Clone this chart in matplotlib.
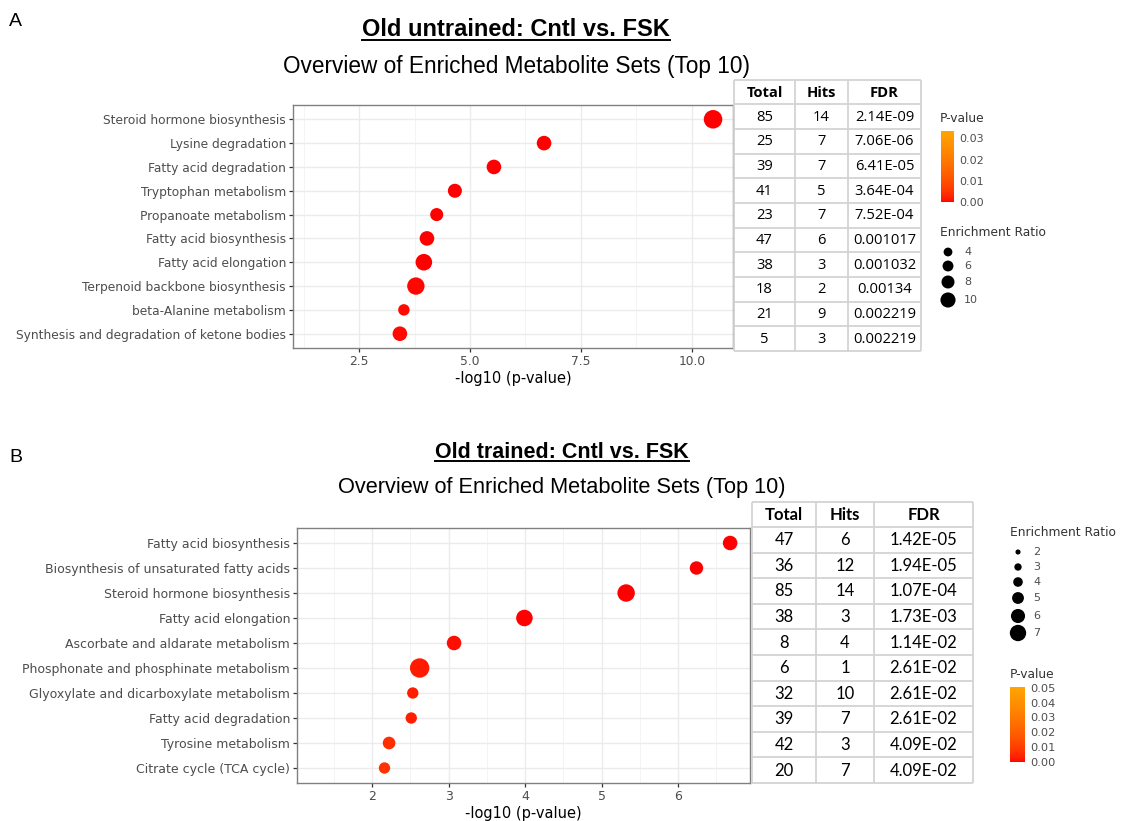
import numpy as np
import matplotlib
matplotlib.use("Agg")
import matplotlib.pyplot as plt
from matplotlib.colors import LinearSegmentedColormap, Normalize
from matplotlib.cm import ScalarMappable

# ---------------- data ----------------
sets_a = ["Steroid hormone biosynthesis", "Lysine degradation", "Fatty acid degradation",
          "Tryptophan metabolism", "Propanoate metabolism", "Fatty acid biosynthesis",
          "Fatty acid elongation", "Terpenoid backbone biosynthesis", "beta-Alanine metabolism",
          "Synthesis and degradation of ketone bodies"]
neglogp_a = [10.48, 6.67, 5.54, 4.66, 4.25, 4.03, 3.96, 3.78, 3.51, 3.42]
ratio_a = [10.5, 6.5, 6.5, 6.0, 5.2, 6.5, 8.4, 9.2, 4.0, 6.5]
total_a = ["85", "25", "39", "41", "23", "47", "38", "18", "21", "5"]
hits_a = ["14", "7", "7", "5", "7", "6", "3", "2", "9", "3"]
fdr_a = ["2.14E-09", "7.06E-06", "6.41E-05", "3.64E-04", "7.52E-04",
         "0.001017", "0.001032", "0.00134", "0.002219", "0.002219"]
xticks_a = [2.5, 5.0, 7.5, 10.0]
pbar_ticks_a = [0.00, 0.01, 0.02, 0.03]
ratio_keys_a = [4, 6, 8, 10]

sets_b = ["Fatty acid biosynthesis", "Biosynthesis of unsaturated fatty acids",
          "Steroid hormone biosynthesis", "Fatty acid elongation",
          "Ascorbate and aldarate metabolism", "Phosphonate and phosphinate metabolism",
          "Glyoxylate and dicarboxylate metabolism", "Fatty acid degradation",
          "Tyrosine metabolism", "Citrate cycle (TCA cycle)"]
neglogp_b = [6.68, 6.24, 5.32, 3.99, 3.07, 2.62, 2.53, 2.51, 2.22, 2.16]
ratio_b = [4.1, 3.5, 5.9, 5.3, 4.1, 7.3, 2.5, 2.5, 3.1, 2.5]
total_b = ["47", "36", "85", "38", "8", "6", "32", "39", "42", "20"]
hits_b = ["6", "12", "14", "3", "4", "1", "10", "7", "3", "7"]
fdr_b = ["1.42E-05", "1.94E-05", "1.07E-04", "1.73E-03", "1.14E-02",
         "2.61E-02", "2.61E-02", "2.61E-02", "4.09E-02", "4.09E-02"]
xticks_b = [2, 3, 4, 5, 6]
pbar_ticks_b = [0.00, 0.01, 0.02, 0.03, 0.04, 0.05]
ratio_keys_b = [2, 3, 4, 5, 6, 7]

table_header = ["Total", "Hits", "FDR"]

# ---------------- figure ----------------
W, H = 1122, 821
fig = plt.figure(figsize=(W / 100, H / 100), dpi=100)
fig.patch.set_facecolor("white")

cmap = LinearSegmentedColormap.from_list("pval", ["#FF0000", "#FFA500"], gamma=0.6)

GRID = "#EBEBEB"
TXT = "#4D4D4D"


def px_axes(left, top, right, bottom, **kw):
    return fig.add_axes([left / W, 1 - bottom / H, (right - left) / W, (bottom - top) / H], **kw)


# overlay for absolutely positioned text, tables and legend keys
ov = fig.add_axes([0, 0, 1, 1], zorder=5)
ov.set_xlim(0, W)
ov.set_ylim(H, 0)
ov.axis("off")
ov.patch.set_alpha(0)


def dot_panel(box, names, xvals, ratios, pmax, xlim, xticks, minor, area_k, lab_size):
    ax = px_axes(*box)
    ax.set_zorder(2)
    y = np.arange(len(names))
    p = 10 ** (-np.asarray(xvals))
    colors = cmap(Normalize(0, pmax)(p))
    ax.scatter(xvals, y, s=area_k * np.asarray(ratios), c=colors, linewidths=0, zorder=3)
    ax.set_xlim(*xlim)
    ax.set_ylim(len(names) - 0.4, -0.6)
    ax.set_yticks(y)
    ax.set_yticklabels(names)
    ax.set_xticks(xticks)
    ax.set_xticks(minor, minor=True)
    ax.grid(True, which="major", color=GRID, lw=1.0, zorder=0)
    ax.grid(True, which="minor", axis="x", color="#F3F3F3", lw=0.6, zorder=0)
    ax.set_axisbelow(True)
    for s in ax.spines.values():
        s.set_color("#808080")
        s.set_linewidth(1.0)
    ax.tick_params(which="major", length=3, width=0.9, color="#333333",
                   labelcolor=TXT, labelsize=lab_size, pad=2)
    ax.tick_params(which="minor", length=0)
    ax.set_xlabel("-log10 (p-value)", fontsize=10.5, color="black", labelpad=2)
    return ax


ax_a = dot_panel((293, 105, 733, 348), sets_a, neglogp_a, ratio_a, 0.0335,
                 (1.01, 10.93), xticks_a, [1.25, 3.75, 6.25, 8.75], 17.0, 8.8)
ax_a.set_xticklabels(["2.5", "5.0", "7.5", "10.0"])
ax_b = dot_panel((297, 528, 750, 783), sets_b, neglogp_b, ratio_b, 0.0505,
                 (1.016, 6.94), xticks_b, [1.5, 2.5, 3.5, 4.5, 5.5, 6.5], 26.7, 9.0)


def draw_table(cols, top, header_h, row_h, columns, font, fsize):
    nrows = len(columns[0])
    bottom = top + header_h + nrows * row_h
    lc = "#D3D3D3"
    ys = [top, top + header_h] + [top + header_h + (i + 1) * row_h for i in range(nrows)]
    for yy in ys:
        ov.plot([cols[0], cols[-1]], [yy, yy], color=lc, lw=1.3, solid_capstyle="butt")
    for xx in cols:
        ov.plot([xx, xx], [top, bottom], color=lc, lw=1.3, solid_capstyle="butt")
    for j, head in enumerate(table_header):
        cx = (cols[j] + cols[j + 1]) / 2
        ov.text(cx, top + header_h / 2 + 0.5, head, ha="center", va="center",
                fontsize=fsize, fontweight="bold", family=font, color="black")
        for i, val in enumerate(columns[j]):
            cy = top + header_h + (i + 0.5) * row_h
            ov.text(cx, cy + 0.5, val, ha="center", va="center", fontsize=fsize,
                    family=font, color="black")


draw_table([734, 795, 848, 921], 80, 24.5, 24.65, [total_a, hits_a, fdr_a], "Open Sans", 10.6)
draw_table([752, 816, 874, 973], 502, 25.0, 25.6, [total_b, hits_b, fdr_b], "Lato", 12)


def pvalue_legend(title_xy, bar_box, vmax, ticks, fsize):
    ov.text(title_xy[0], title_xy[1], "P-value", ha="left", va="center",
            fontsize=8.8, color="#333333")
    left, top, right, bottom = bar_box
    cax = px_axes(left, top, right, bottom)
    sm = ScalarMappable(norm=Normalize(0, vmax), cmap=cmap)
    cb = fig.colorbar(sm, cax=cax, ticks=ticks)
    cb.outline.set_visible(False)
    cb.ax.tick_params(length=0, labelsize=fsize, labelcolor=TXT, pad=4)
    cb.ax.set_yticklabels([f"{t:.2f}" for t in ticks])


def ratio_legend(title_xy, key_x, key_ys, label_x, keys, diam_fn, fsize):
    ov.text(title_xy[0], title_xy[1], "Enrichment Ratio", ha="left", va="center",
            fontsize=8.8, color="#333333")
    d = np.array([diam_fn(k) for k in keys])
    ov.scatter([key_x] * len(keys), key_ys, s=(d * 0.72) ** 2, color="black", linewidths=0)
    for k, yy in zip(keys, key_ys):
        ov.text(label_x, yy, str(k), ha="left", va="center", fontsize=fsize, color=TXT)


pvalue_legend((940, 118), (941, 131, 954, 202), 0.0335, pbar_ticks_a, 8)
ratio_legend((940, 232), 948, [252, 266, 282, 300], 964, ratio_keys_a,
             lambda k: 4.6 + 1.05 * k, 8)

ratio_legend((1010, 533), 1018, [552, 567, 582, 598, 616, 633], 1033, ratio_keys_b,
             lambda k: 0.6 + 2.25 * k, 8)
pvalue_legend((1010, 675), (1010, 687, 1025, 762), 0.0505, pbar_ticks_b, 8.2)

# headings
ov.text(9, 21, "A", fontsize=14, family="Liberation Sans", va="center", ha="left")
ov.text(9, 457, "B", fontsize=14, family="Liberation Sans", va="center", ha="left")

titles = [
    ov.text(516, 30, "Old untrained: Cntl vs. FSK", fontsize=17, fontweight="bold",
            family="Liberation Sans", ha="center", va="center"),
    ov.text(562, 452, "Old trained: Cntl vs. FSK", fontsize=15.5, fontweight="bold",
            family="Liberation Sans", ha="center", va="center"),
]
ov.text(517, 66, "Overview of Enriched Metabolite Sets (Top 10)", fontsize=16.3,
        family="Liberation Sans", ha="center", va="center")
ov.text(562, 487, "Overview of Enriched Metabolite Sets (Top 10)", fontsize=15.7,
        family="Liberation Sans", ha="center", va="center")

# underline the bold titles
fig.canvas.draw()
renderer = fig.canvas.get_renderer()
inv = ov.transData.inverted()
for t in titles:
    bb = t.get_window_extent(renderer)
    (x0, y0), (x1, y1) = inv.transform([[bb.x0, bb.y0], [bb.x1, bb.y1]])
    ov.plot([x0, x1], [y0 - 1, y0 - 1], color="black", lw=1.4)

fig.savefig("out.png", dpi=100, facecolor="white")
